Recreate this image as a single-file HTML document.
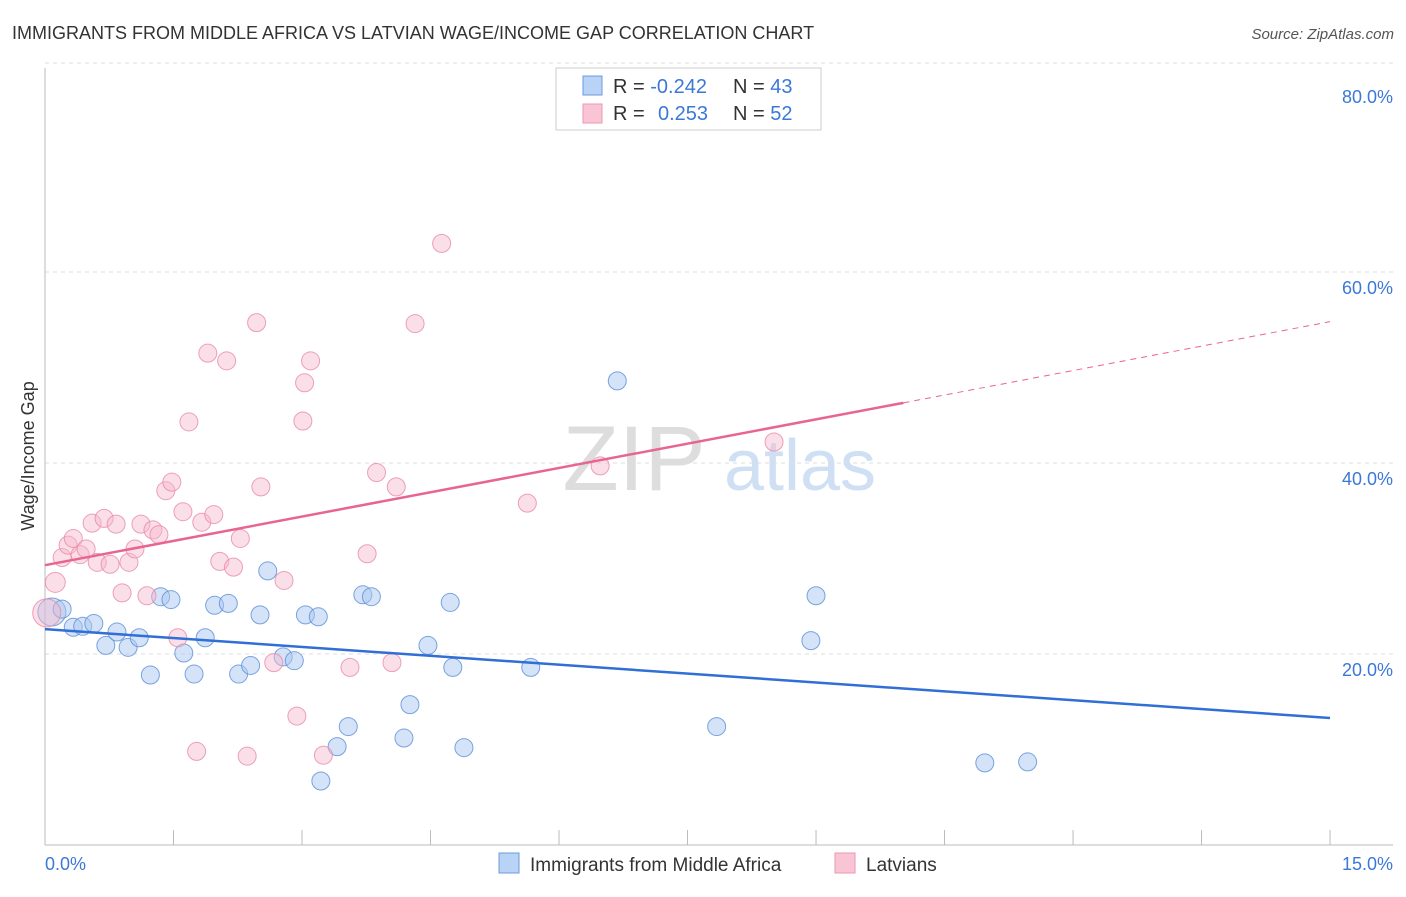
<!DOCTYPE html>
<html><head><meta charset="utf-8"><style>
body{margin:0;background:#fff;font-family:"Liberation Sans",sans-serif}
svg text{font-family:"Liberation Sans",sans-serif}
</style></head><body>
<svg id="chart" width="1406" height="892" viewBox="0 0 1406 892">
<text x="12" y="39" font-size="18" fill="#333">IMMIGRANTS FROM MIDDLE AFRICA VS LATVIAN WAGE/INCOME GAP CORRELATION CHART</text>
<text x="1394" y="39" font-size="15" fill="#555" font-style="italic" text-anchor="end">Source: ZipAtlas.com</text>
<g>
<text x="634" y="490" font-size="92" fill="#ddd" text-anchor="middle" font-family="Liberation Serif">ZIP</text>
<text x="800" y="490" font-size="72" fill="#cfe0f4" text-anchor="middle">atlas</text>
</g>
<g id="grid"></g>
<g id="axes"></g>
<g id="marks"></g>
<text transform="translate(34,456) rotate(-90)" font-size="18" fill="#333" text-anchor="middle">Wage/Income Gap</text>
<text x="45" y="870" font-size="18" fill="#3b78d8">0.0%</text>
<text x="1393" y="870" font-size="18" fill="#3b78d8" text-anchor="end">15.0%</text>
<g>
<rect x="556" y="68" width="265" height="62" fill="#fff" stroke="#ccc"/>
<rect x="583" y="76" width="19" height="19" fill="#b8d3f5" stroke="#6a9be0"/>
<rect x="583" y="104" width="19" height="19" fill="#f9c5d5" stroke="#ec97b2"/>
<text x="613" y="93" font-size="20" fill="#333">R = <tspan fill="#3b78d8">-0.242</tspan><tspan x="733">N = </tspan><tspan fill="#3b78d8">43</tspan></text>
<text x="613" y="120" font-size="20" fill="#333">R = <tspan x="658" fill="#3b78d8">0.253</tspan><tspan x="733">N = </tspan><tspan fill="#3b78d8">52</tspan></text>
</g>
<g>
<rect x="499" y="853" width="20" height="20" fill="#b8d3f5" stroke="#6a9be0"/>
<text x="530" y="871" font-size="19" fill="#333">Immigrants from Middle Africa</text>
<rect x="835" y="853" width="20" height="20" fill="#f9c5d5" stroke="#ec97b2"/>
<text x="866" y="871" font-size="19" fill="#333">Latvians</text>
</g>
</svg>
<script>
const blueX=[0.08,0.2,0.33,0.44,0.57,0.71,0.84,0.97,1.10,1.23,1.35,1.47,1.62,1.74,1.87,1.98,2.14,2.26,2.4,2.51,2.60,2.78,2.91,3.04,3.19,3.22,3.41,3.54,3.71,3.81,4.19,4.26,4.47,4.73,4.76,4.89,5.67,6.68,7.84,8.94,9.0,10.97,11.47];
const blueY=[24.4,24.7,22.8,22.9,23.2,20.9,22.3,20.7,21.7,17.8,26.0,25.7,20.1,17.9,21.7,25.1,25.3,17.9,18.8,24.1,28.7,19.7,19.3,24.1,23.9,6.7,10.3,12.4,26.2,26.0,11.2,14.7,20.9,25.4,18.6,10.2,18.6,48.6,12.4,21.4,26.1,8.6,8.7];
const pinkX=[0.02,0.12,0.2,0.27,0.33,0.41,0.48,0.55,0.61,0.69,0.76,0.83,0.9,0.98,1.05,1.12,1.19,1.26,1.33,1.41,1.48,1.55,1.61,1.68,1.77,1.83,1.9,1.97,2.04,2.12,2.2,2.28,2.36,2.47,2.52,2.67,2.79,2.94,3.01,3.03,3.1,3.25,3.56,3.76,3.87,4.05,4.1,4.32,4.63,5.63,6.48,8.51];
const pinkY=[24.3,27.5,30.1,31.4,32.1,30.4,31.0,33.7,29.6,34.2,29.4,33.6,26.4,29.6,31.0,33.6,26.1,33.0,32.5,37.1,38.0,21.7,34.9,44.3,9.8,33.8,51.5,34.6,29.7,50.7,29.1,32.1,9.3,54.7,37.5,19.1,27.7,13.5,44.4,48.4,50.7,9.4,18.6,30.5,39.0,19.1,37.5,54.6,63.0,35.8,39.7,42.2];
const blueTrend=[22.6,13.3];
const pinkTrend=[29.3,46.3,54.8];
const pinkSolidEnd=10.02;
const yTicks=[20,40,60,80];
const yTickLabels=["20.0%","40.0%","60.0%","80.0%"];
const xTicks=[0,1.5,3,4.5,6,7.5,9,10.5,12,13.5,15];

const NS="http://www.w3.org/2000/svg";
const X=v=>45+v*85.67, Y=v=>845-v*9.55;
function mk(tag,attrs,parent){const e=document.createElementNS(NS,tag);for(const k in attrs)e.setAttribute(k,attrs[k]);parent.appendChild(e);return e;}
const grid=document.getElementById('grid'),axes=document.getElementById('axes'),marks=document.getElementById('marks');
yTicks.forEach((t,i)=>{
  const l=mk('line',{x1:45,x2:1393,y1:Y(t)-(t===80?18:0),y2:Y(t)-(t===80?18:0),stroke:'#ddd','stroke-dasharray':'4,4'},grid);
  
  
  const tx=mk('text',{x:1393,y:Y(t)+22,'font-size':18,fill:'#3b78d8','text-anchor':'end'},axes);
  tx.textContent=yTickLabels[i];
  
  
});
let a=mk('line',{x1:45,x2:45,y1:68,y2:845,stroke:'#bbb'},axes);


a=mk('line',{x1:45,x2:1393,y1:845,y2:845,stroke:'#bbb'},axes);


xTicks.forEach(t=>{
  const l=mk('line',{x1:X(t),x2:X(t),y1:830,y2:845,stroke:'#bbb'},axes);
  
  
});
blueX.forEach((x,i)=>{
  const c=mk('circle',{cx:X(x),cy:Y(blueY[i]),r:i===0?14:9,fill:'#a9c8f0','fill-opacity':0.5,stroke:'#5b8fd8','stroke-opacity':0.8},marks);
  
  
});
pinkX.forEach((x,i)=>{
  const c=mk('circle',{cx:X(x),cy:Y(pinkY[i]),r:i===0?14:(i===1?10:9),fill:'#f6b8cb','fill-opacity':0.45,stroke:'#e88aa8','stroke-opacity':0.8},marks);
  
  
});
let t=mk('line',{x1:X(0),y1:Y(blueTrend[0]),x2:X(15),y2:Y(blueTrend[1]),stroke:'#2f6fd6','stroke-width':2.5},marks);


t=mk('line',{x1:X(0),y1:Y(pinkTrend[0]),x2:X(pinkSolidEnd),y2:Y(pinkTrend[1]),stroke:'#e8658f','stroke-width':2.5},marks);


t=mk('line',{x1:X(pinkSolidEnd),y1:Y(pinkTrend[1]),x2:X(15),y2:Y(pinkTrend[2]),stroke:'#e8658f','stroke-width':1,'stroke-dasharray':'6,5'},marks);


</script>
</body></html>
